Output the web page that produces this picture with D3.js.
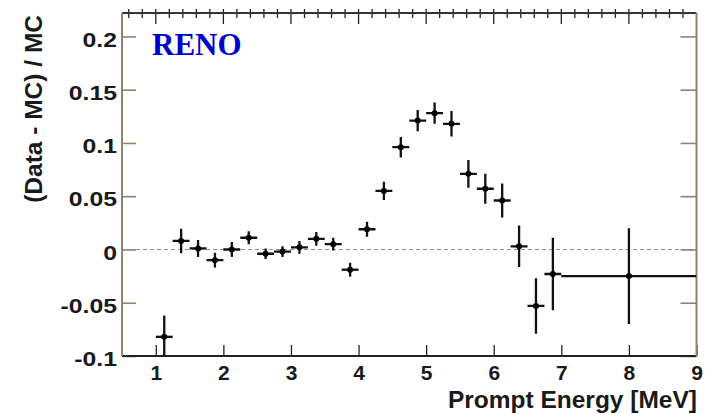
<!DOCTYPE html>
<html lang="en">
<head>
    <meta charset="UTF-8">
    <title>RENO (Data - MC) / MC</title>
    <style>
        body {
            margin: 0;
            padding: 0;
            background-color: #ffffff;
        }
        svg {
            display: block;
        }
        .lbl {
            font-family: "Liberation Sans", Arial, sans-serif;
            font-weight: bold;
            fill: #1a1a1a;
        }
    </style>
    <script src="https://d3js.org/d3.v7.min.js"></script>
</head>
<body>
    <script>
        const width = 716;
        const height = 414;

        // bin centres [MeV], half widths, ratio and its error
        const energy = [1.125, 1.375, 1.625, 1.875, 2.125, 2.375, 2.625, 2.875,
                        3.125, 3.375, 3.625, 3.875, 4.125, 4.375, 4.625, 4.875,
                        5.125, 5.375, 5.625, 5.875, 6.125, 6.375, 6.625, 6.875, 8.0];
        const binHalfWidth = [0.125, 0.125, 0.125, 0.125, 0.125, 0.125, 0.125, 0.125,
                              0.125, 0.125, 0.125, 0.125, 0.125, 0.125, 0.125, 0.125,
                              0.125, 0.125, 0.125, 0.125, 0.125, 0.125, 0.125, 0.125, 1.0];
        const ratio = [-0.082, 0.008, 0.001, -0.010, 0.000, 0.011, -0.004, -0.002,
                       0.002, 0.010, 0.005, -0.019, 0.019, 0.055, 0.096, 0.121,
                       0.128, 0.118, 0.071, 0.057, 0.046, 0.003, -0.053, -0.023, -0.025];
        const ratioErr = [0.020, 0.0115, 0.008, 0.007, 0.007, 0.006, 0.005, 0.005,
                          0.006, 0.0065, 0.006, 0.0065, 0.007, 0.0085, 0.0097, 0.010,
                          0.010, 0.012, 0.013, 0.014, 0.016, 0.0195, 0.026, 0.034, 0.045];

        const xTickValues = [1, 2, 3, 4, 5, 6, 7, 8, 9];
        const xTickLabels = ["1", "2", "3", "4", "5", "6", "7", "8", "9"];
        const yTickValues = [-0.1, -0.05, 0, 0.05, 0.1, 0.15, 0.2];
        const yTickLabels = ["-0.1", "-0.05", "0", "0.05", "0.1", "0.15", "0.2"];

        const padL = 122, padR = 696.5, padT = 13, padB = 356;

        const x = d3.scaleLinear().domain([0.5, 9]).range([padL, padR]);
        const y = d3.scaleLinear().domain([-0.1, 0.222]).range([padB, padT]);

        const axisTan = "#8f8474";
        const axisDark = "#222222";

        const svg = d3.select("body").append("svg")
            .attr("width", width)
            .attr("height", height);

        svg.append("rect")
            .attr("width", width)
            .attr("height", height)
            .attr("fill", "#ffffff");

        svg.append("defs").append("clipPath")
            .attr("id", "plot")
            .append("rect")
            .attr("x", padL)
            .attr("y", padT)
            .attr("width", padR - padL)
            .attr("height", padB - padT);

        const xMinor = d3.range(0.6, 9.0, 0.2).filter(v => Math.abs(v - Math.round(v)) > 1e-6);
        const yMinor = d3.range(-0.09, 0.2221, 0.01).filter(v => Math.abs(v * 20 - Math.round(v * 20)) > 1e-6);

        // zero line
        svg.append("line")
            .attr("x1", padL)
            .attr("x2", padR)
            .attr("y1", y(0))
            .attr("y2", y(0))
            .attr("stroke", "#9a8e7c")
            .attr("stroke-width", 1.2)
            .attr("stroke-dasharray", "4,3");

        // left axis (ticks inward)
        const gLeft = svg.append("g").attr("transform", `translate(${padL},0)`);
        gLeft.call(d3.axisLeft(y).tickValues(yMinor).tickSize(-7).tickFormat(""));
        gLeft.call(d3.axisLeft(y).tickValues(yTickValues).tickSize(-14).tickPadding(5)
            .tickFormat((d, i) => yTickLabels[i]));
        gLeft.selectAll(".domain").remove();
        gLeft.selectAll("line").attr("stroke", axisTan).attr("stroke-width", 1.6);
        gLeft.selectAll("text")
            .attr("class", "lbl")
            .attr("font-size", 21)
            .attr("x", -5 / 1.18)
            .attr("dy", "0.46em")
            .attr("transform", "scale(1.18,1)");

        // right axis (ticks inward)
        const gRight = svg.append("g").attr("transform", `translate(${padR},0)`);
        gRight.call(d3.axisRight(y).tickValues(yMinor).tickSize(-8).tickFormat(""));
        gRight.call(d3.axisRight(y).tickValues(yTickValues).tickSize(-16).tickFormat(""));
        gRight.selectAll(".domain").remove();
        gRight.selectAll("line").attr("stroke", axisTan).attr("stroke-width", 1.6);

        // bottom axis
        const gBottom = svg.append("g").attr("transform", `translate(0,${padB})`);
        gBottom.call(d3.axisBottom(x).tickValues(xMinor).tickSize(-5).tickFormat(""));
        gBottom.call(d3.axisBottom(x).tickValues(xTickValues).tickSize(-11).tickPadding(9)
            .tickFormat((d, i) => xTickLabels[i]));
        gBottom.selectAll(".domain").remove();
        gBottom.selectAll("line").attr("stroke", axisDark).attr("stroke-width", 1.3);
        gBottom.selectAll("text")
            .attr("class", "lbl")
            .attr("font-size", 21);

        // top axis: ticks crossing the frame line
        const gTop = svg.append("g");
        gTop.selectAll("line.minor")
            .data(xMinor)
            .join("line")
            .attr("class", "minor")
            .attr("x1", d => x(d)).attr("x2", d => x(d))
            .attr("y1", padT - 4).attr("y2", padT + 5)
            .attr("stroke", axisDark).attr("stroke-width", 1.3);
        gTop.selectAll("line.major")
            .data(xTickValues.filter(v => v < 9))
            .join("line")
            .attr("class", "major")
            .attr("x1", d => x(d)).attr("x2", d => x(d))
            .attr("y1", padT - 4).attr("y2", padT + 11)
            .attr("stroke", axisDark).attr("stroke-width", 1.3);

        // frame
        svg.append("line").attr("x1", padL).attr("x2", padR).attr("y1", padT).attr("y2", padT)
            .attr("stroke", "#333333").attr("stroke-width", 2);
        svg.append("line").attr("x1", padL).attr("x2", padR).attr("y1", padB).attr("y2", padB)
            .attr("stroke", axisDark).attr("stroke-width", 2);
        svg.append("line").attr("x1", padL).attr("x2", padL).attr("y1", padT).attr("y2", padB)
            .attr("stroke", axisTan).attr("stroke-width", 2);
        svg.append("line").attr("x1", padR).attr("x2", padR).attr("y1", padT).attr("y2", padB)
            .attr("stroke", axisTan).attr("stroke-width", 2);

        // data points with error bars
        const points = energy.map((e, i) => ({
            e: e, hw: binHalfWidth[i], r: ratio[i], err: ratioErr[i]
        }));

        const gData = svg.append("g").attr("clip-path", "url(#plot)");
        gData.selectAll("line.xerr")
            .data(points)
            .join("line")
            .attr("class", "xerr")
            .attr("x1", d => x(d.e - d.hw))
            .attr("x2", d => x(d.e + d.hw))
            .attr("y1", d => y(d.r))
            .attr("y2", d => y(d.r))
            .attr("stroke", "#111111")
            .attr("stroke-width", 2.3);
        gData.selectAll("line.yerr")
            .data(points)
            .join("line")
            .attr("class", "yerr")
            .attr("x1", d => x(d.e))
            .attr("x2", d => x(d.e))
            .attr("y1", d => y(d.r - d.err))
            .attr("y2", d => y(d.r + d.err))
            .attr("stroke", "#111111")
            .attr("stroke-width", 2.3);
        gData.selectAll("circle")
            .data(points)
            .join("circle")
            .attr("cx", d => x(d.e))
            .attr("cy", d => y(d.r))
            .attr("r", 3)
            .attr("fill", "#000000");

        // titles
        svg.append("text")
            .attr("class", "lbl")
            .attr("font-size", 24.5)
            .attr("text-anchor", "end")
            .attr("x", 697)
            .attr("y", 408)
            .text("Prompt Energy [MeV]");

        svg.append("text")
            .attr("class", "lbl")
            .attr("font-size", 24.5)
            .attr("text-anchor", "end")
            .attr("transform", "rotate(-90)")
            .attr("x", -15)
            .attr("y", 42)
            .text("(Data - MC) / MC");

        svg.append("text")
            .attr("x", 152)
            .attr("y", 55)
            .attr("font-family", "'Liberation Serif', 'Times New Roman', serif")
            .attr("font-weight", "bold")
            .attr("font-size", 31)
            .attr("fill", "#0000cc")
            .text("RENO");
    </script>
</body>
</html>
